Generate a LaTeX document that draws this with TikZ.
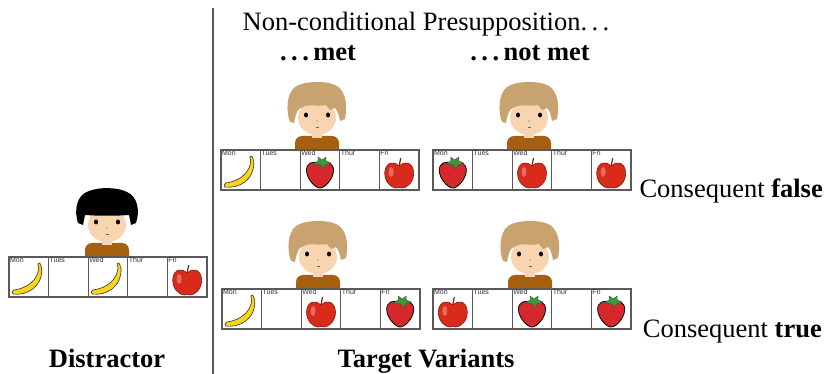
\documentclass[tikz,border=0pt]{standalone}
\usepackage{fontspec}
\setmainfont{Liberation Serif}
\newfontfamily\daysans{Liberation Sans}
\usetikzlibrary{calc}

\definecolor{skintone}{HTML}{F8D5B0}
\definecolor{lighthair}{HTML}{C9A36F}
\definecolor{shirtbrown}{HTML}{A5600F}
\definecolor{stripgray}{HTML}{5A5A5A}
\definecolor{applered}{HTML}{D92B1C}
\definecolor{berryred}{HTML}{D8262A}
\definecolor{leafgreen}{HTML}{3A9A3A}
\definecolor{bananayellow}{HTML}{F7D619}
\definecolor{stemcolor}{HTML}{6B2A10}

% spaced dots as in classic \ldots
\newcommand{\spdots}{.\kern.17em.\kern.17em.}

% hair, drawn over the top of the face
\newcommand{\hairlight}{%
  \fill[lighthair] (-27,10) .. controls (-31,0) and (-31,-18) .. (-22,-25)
    .. controls (-14,-31) and (10,-32) .. (20,-26)
    .. controls (28,-21) and (31,-8) .. (28,7) -- (23,9)
    .. controls (22,4) and (21,-1) .. (18,-4) -- (13,-2) -- (9,-7)
    .. controls (2,-5) and (-6,-8) .. (-12,-6) -- (-18,-3)
    .. controls (-21,0) and (-22,6) .. (-23,11) -- cycle;}
\newcommand{\hairdark}{%
  \fill[black] (-29,4) .. controls (-33,-8) and (-31,-24) .. (-18,-28)
    .. controls (-8,-32) and (10,-32) .. (20,-27)
    .. controls (31,-22) and (33,-8) .. (29,4) -- (24,6) -- (22,-4)
    .. controls (8,-3) and (-8,-3) .. (-22,-4) -- (-24,6) -- cycle;}

% fruit, centred on a day cell
\newcommand{\drawnone}{}
\newcommand{\drawapple}{%
  \fill[applered,draw=applered!60!black,line width=0.6]
    (0,-4) .. controls (-4,-9) and (-14,-9) .. (-14.5,3)
    .. controls (-14.5,12) and (-8,18) .. (-3,18)
    .. controls (-1,17.3) and (1,17.3) .. (3,18)
    .. controls (8,18) and (14.5,12) .. (14.5,3)
    .. controls (14,-9) and (4,-9) .. (0,-4) -- cycle;
  \fill[white,opacity=0.3] (-8,2) ellipse [x radius=2.5,y radius=5];
  \draw[line width=1.2,stemcolor] (0,-4) -- (1.5,-12);}
\newcommand{\drawstrawberry}{%
  \fill[berryred,draw=black,line width=0.8]
    (0,-6) .. controls (-7,-10) and (-14,-7) .. (-13.5,1)
    .. controls (-13,9) and (-5,18) .. (0,18)
    .. controls (5,18) and (13,9) .. (13.5,1)
    .. controls (14,-7) and (7,-10) .. (0,-6) -- cycle;
  \foreach \p in {(-8,0),(-3,-1),(3,-1),(8,1),(-6,6),(0,5),(6,6),(-3,11),(3,11),(0,15),(-10,5),(10,6)}
    \fill[black!55] \p circle [radius=0.6];
  \fill[leafgreen,draw=black!70,line width=0.4] (1,-5) -- (-7,-6) -- (-2,-9)
    -- (-2,-13) -- (2,-10) -- (6,-13) -- (6,-9) -- (11,-7) -- (5,-5) -- (3,-1) -- cycle;}
\newcommand{\drawbanana}{%
  \fill[bananayellow,draw=black!80,line width=0.6]
    (-16,17) .. controls (-2,19) and (14,10) .. (13,-9) -- (11,-14) -- (9,-13)
    -- (10,-9) .. controls (9,2) and (0,11) .. (-15,13)
    .. controls (-17,14) and (-17,16) .. (-16,17) -- cycle;}

\newcommand{\dayname}[1]{\ifcase#1\or Mon\or Tues\or Wed\or Thur\or Fri\fi}

% #1 name, #2 top left corner, #3 fruit of each day
\newcommand{\weekstrip}[3]{%
  \foreach \fr [count=\i] in {#3} {
    \node[daycell] (#1-\i) at ($(#2)+(\i*39.6-19.8,20)$) {};
    \node[daylabel] (#1-\i-lbl) at ([shift={(1.5,1.2)}]#1-\i.north west) {\dayname{\i}};
    \begin{scope}[shift={(#1-\i.center)}]
      \csname draw\fr\endcsname
    \end{scope}
  }}

\tikzset{
  pics/boy/.style={code={
    \fill[shirtbrown,rounded corners=7] (-22,46) -- (-22,24) -- (22,24) -- (22,46) -- cycle;
    \fill[skintone] (-5,16) rectangle (5,26);
    \fill[skintone] (0,6) ellipse [x radius=19,y radius=17];
    \csname hair#1\endcsname
    \fill (-11,3) ellipse [x radius=2,y radius=2.5];
    \fill (11,3) ellipse [x radius=2,y radius=2.5];
    \fill[black!35] (0,9) circle [radius=0.8];
    \draw[black!60,line width=0.7] (-1.5,15) -- (1.5,15);
  }},
}

\begin{document}
\begin{tikzpicture}[x=1pt,y=-1pt,
    daycell/.style={draw=stripgray,fill=white,line width=1.3,
      minimum width=39.6pt,minimum height=40pt,inner sep=0pt},
    daylabel/.style={anchor=north west,inner sep=0pt,text=black!80,
      font=\daysans\fontsize{7}{7}\selectfont},
    bigtext/.style={anchor=base,inner sep=0pt,font=\fontsize{26.5}{30}\selectfont},
    dividerline/.style={stripgray,line width=1.8}]
  \useasboundingbox (0,0) rectangle (825,374);

  % distractor on the left
  \pic at (107,219) {boy=dark};
  \weekstrip{dis}{9,257}{banana,none,banana,none,apple}
  \node[bigtext] (dis-title) at (107,367) {\bfseries Distractor};

  \coordinate (div-top) at (213,8);
  \coordinate (div-bot) at (213,374);
  \draw[dividerline] (div-top) -- (div-bot);

  % target variants
  \pic at (317,112) {boy=light};
  \weekstrip{met-f}{221,150}{banana,none,strawberry,none,apple}
  \pic at (529,112) {boy=light};
  \weekstrip{notmet-f}{433,150}{strawberry,none,apple,none,apple}
  \pic at (318,251) {boy=light};
  \weekstrip{met-t}{222,289}{banana,none,apple,none,strawberry}
  \pic at (530,251) {boy=light};
  \weekstrip{notmet-t}{433,289}{apple,none,strawberry,none,strawberry}

  \node[bigtext] (presup) at (426,31) {Non-conditional Presupposition\spdots};
  \node[bigtext] (met) at (318,61) {\bfseries\spdots\,met};
  \node[bigtext] (notmet) at (530,61) {\bfseries\spdots\,not met};
  \node[bigtext,anchor=base east] (cons-f) at (823,198) {Consequent \textbf{false}};
  \node[bigtext,anchor=base east] (cons-t) at (822,337) {Consequent \textbf{true}};
  \node[bigtext] (tgt-title) at (426,367) {\bfseries Target Variants};
\end{tikzpicture}
\end{document}
